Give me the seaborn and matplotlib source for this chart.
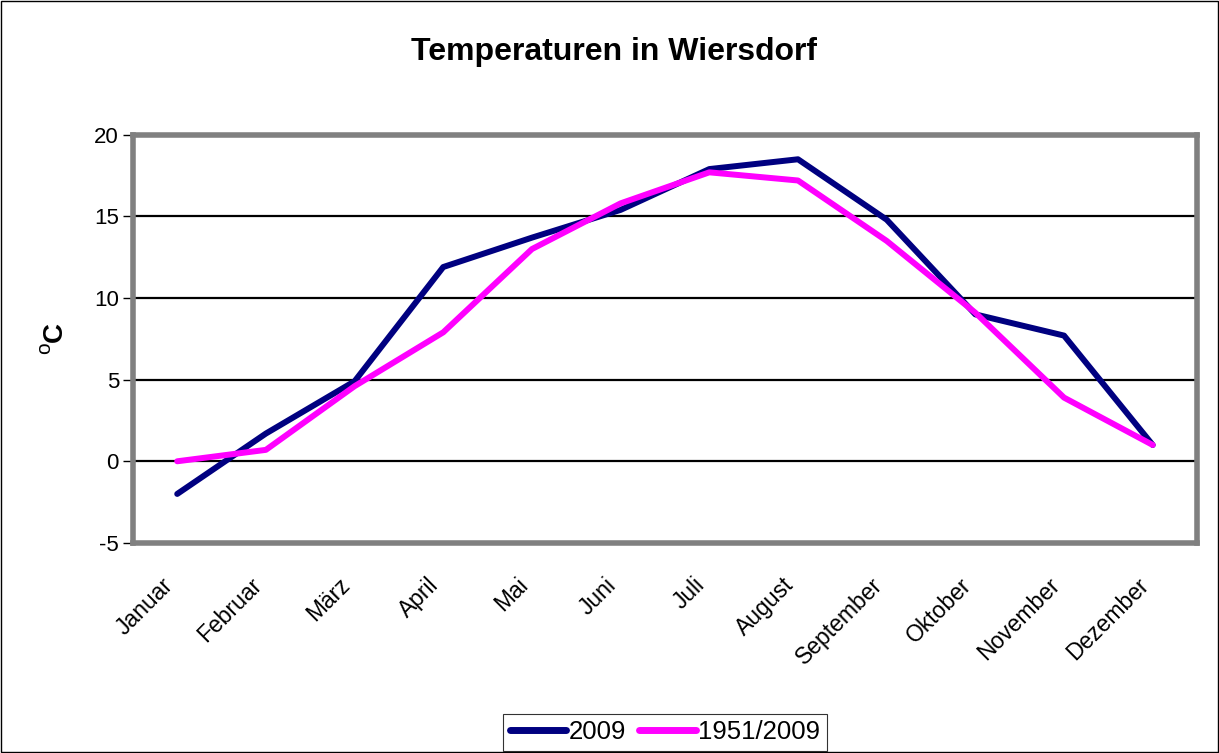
import pandas as pd
import numpy as np
import seaborn as sns
import matplotlib.pyplot as plt
import matplotlib.transforms as mtransforms
from matplotlib.patches import Rectangle

# Monatsnamen und Temperaturen
months = ["Januar", "Februar", "März", "April", "Mai", "Juni", "Juli",
          "August", "September", "Oktober", "November", "Dezember"]
temp_2009 = [-2.0, 1.7, 4.9, 11.9, 13.7, 15.4, 17.9, 18.5, 14.8, 9.0, 7.7, 1.0]
temp_mean = [0.0, 0.7, 4.6, 7.9, 13.0, 15.8, 17.7, 17.2, 13.5, 9.1, 3.9, 1.0]
series_names = ["2009", "1951/2009"]
y_ticks = [-5, 0, 5, 10, 15, 20]

df = pd.DataFrame({
    "pos": list(range(len(months))) * 2,
    "temp": temp_2009 + temp_mean,
    "series": [series_names[0]] * len(months) + [series_names[1]] * len(months),
})

sns.set_style("white")
plt.rcParams['font.family'] = ['Liberation Sans', 'DejaVu Sans']
plt.rcParams['text.color'] = 'black'
plt.rcParams['xtick.color'] = 'black'
plt.rcParams['ytick.color'] = 'black'

fig = plt.figure(figsize=(12.19, 7.53), dpi=100)
ax = fig.add_axes([0.109, 0.279, 0.873, 0.542])

sns.lineplot(data=df, x="pos", y="temp", hue="series",
             palette={"2009": "#000080", "1951/2009": "#FF00FF"},
             linewidth=4.3, ax=ax, legend=True)
for line in ax.get_lines():
    line.set_solid_capstyle("round")

ax.set_xlim(-0.5, len(months) - 0.5)
ax.set_ylim(-5, 20)
ax.set_yticks(y_ticks)
ax.set_yticklabels([str(v) for v in y_ticks], fontsize=16)
ax.set_xticks(np.arange(len(months)))
ax.set_xticklabels(months, rotation=45, ha="right", rotation_mode="anchor", fontsize=16.5)
ax.tick_params(axis="x", which="major", length=0, pad=22)
shift = mtransforms.ScaledTranslation(-16 / 100, 0, fig.dpi_scale_trans)
for lbl in ax.get_xticklabels():
    lbl.set_transform(lbl.get_transform() + shift)
ax.set_xticks(np.arange(-0.5, len(months)), minor=True)
ax.tick_params(axis="x", which="minor", length=7, width=1, color="black", direction="out")
ax.tick_params(axis="y", length=7, width=1, color="black", direction="out", left=True, pad=3)

for y in [0, 5, 10, 15]:
    ax.axhline(y, color="black", linewidth=1.6, zorder=1)

for spine in ax.spines.values():
    spine.set_visible(True)
    spine.set_color("#808080")
    spine.set_linewidth(4)

ax.set_xlabel("")
ax.set_ylabel("")
fig.suptitle("Temperaturen in Wiersdorf", x=614 / 1219, y=1 - 52 / 753,
             fontsize=23, fontweight="bold", ha="center", va="center")

# y-Achsenbeschriftung: hochgestelltes o und fettes C
fig.text(55 / 1219, 1 - 332 / 753, "C", rotation=90, fontsize=20, fontweight="bold",
         ha="center", va="center")
fig.text(45 / 1219, 1 - 348 / 753, "o", rotation=90, fontsize=15,
         ha="center", va="center")

handles, labels = ax.get_legend_handles_labels()
ax.get_legend().remove()
leg = fig.legend(handles, labels, loc="lower center", bbox_to_anchor=(0.5455, 0.003),
                 ncol=2, fontsize=18.5, frameon=True, fancybox=False,
                 edgecolor="black", handlelength=2.2, handletextpad=0.1,
                 columnspacing=0.5, borderpad=0.25, borderaxespad=0)
leg.get_frame().set_linewidth(0.8)
for h in leg.get_lines():
    h.set_linewidth(5)
    h.set_solid_capstyle("round")

# Rahmen um die gesamte Grafik
fig.patches.append(Rectangle((0.001, 0.001), 0.998, 0.998, transform=fig.transFigure,
                             fill=False, edgecolor="black", linewidth=1))

fig.savefig("out.png", dpi=100)
